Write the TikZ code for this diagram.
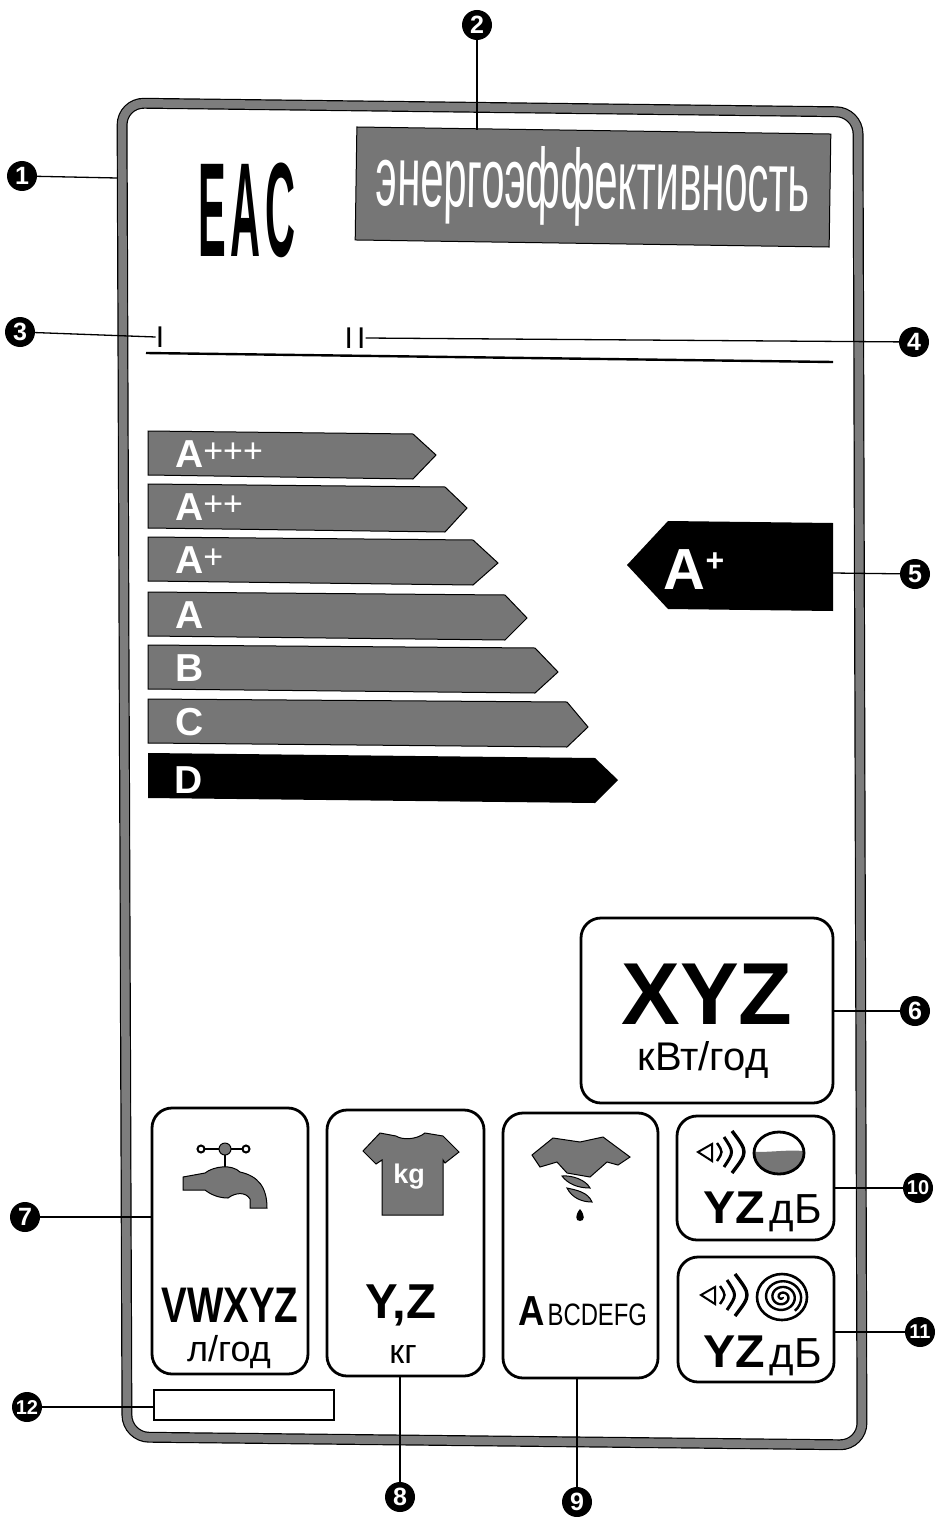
\documentclass[tikz,border=0pt]{standalone}
\usepackage{fontspec}
\setmainfont{Liberation Sans}
\usepackage{tikz}
\definecolor{halfGray}{RGB}{118,118,118}
\definecolor{frameGray}{RGB}{125,125,125}
\newcommand{\fsz}[1]{\fontsize{#1}{#1}\selectfont}
\newcommand{\plusup}[1]{\raisebox{5pt}{\fsz{34}\mdseries #1}}
\tikzset{
  numcirc/.style={circle, fill=black, text=white, inner sep=0pt, minimum size=30pt, font=\fsz{25}\bfseries},
  numsmall/.style={numcirc, font=\fsz{20}\bfseries},
  callout/.style={black, line width=1.3pt},
  valbox/.style={draw=black, line width=2.8pt, rounded corners=20pt, inner sep=0pt},
  halfshape/.style={fill=halfGray, draw=black, line width=1pt},
}
\begin{document}
\begin{tikzpicture}[x=1pt, y=-1pt]
  \useasboundingbox (0,0) rectangle (937,1517);

  % Outer frame, gray band between two dark edges
  \draw[rounded corners=22pt, line width=1.2pt, double=frameGray, double distance=8.5pt]
    (122,103) -- (858,112) -- (862,1445) -- (127,1437) -- cycle;
  \coordinate (frameLeft) at (117,178);

  % Heading
  \node[fill=halfGray, draw=black, line width=1pt, minimum width=474pt, minimum height=113pt,
        inner sep=0pt, rotate=-0.85, text=white] (hdr) at (593,187)
    {\fsz{47}\scalebox{0.89}[1.8]{энергоэффективность}};
  \node[inner sep=0pt] (eac) at (247,210) {\fsz{134}\bfseries\scalebox{0.31}[1]{E\kern16pt A\kern16pt C}};

  % Columns I and II with rule
  \node[inner sep=0pt] (colI) at (160,337) {\fsz{30}I};
  \node[inner sep=0pt] (colII) at (355,338) {\fsz{30}I\kern4pt I};
  \coordinate (ruleL) at (146,353);
  \coordinate (ruleR) at (833,362);
  \draw[line width=2.4pt] (ruleL) -- (ruleR);

  % Scale bars: label/top/end of body/tip x/tip y
  \foreach \lbl/\ytop/\xend/\xtip/\ytip [count=\i] in {
      {A\plusup{+++}}/431/413/436/455,
      {A\plusup{++}}/484/445/467/508,
      {A\plusup{+}}/537/473/498/563,
      {A}/592/505/527/618,
      {B}/645/535/558/672,
      {C}/699/567/588/727}{
    \draw[halfshape] (148,\ytop) -- (\xend,{\ytop+3}) -- (\xtip,\ytip) -- (\xend,{\ytop+48}) -- (148,{\ytop+44}) -- cycle;
    \node[anchor=west, inner sep=0pt, text=white, font=\fsz{39}\bfseries] (bar\i) at (175,{\ytop+23}) {\lbl};
  }
  \fill (148,753) -- (595,758) -- (618,780) -- (595,803) -- (148,798) -- cycle;
  \node[anchor=west, inner sep=0pt, text=white, font=\fsz{39}\bfseries] (barD) at (174,780) {D};

  % Class pointer
  \fill (627,565) -- (668,521) -- (833,523) -- (833,611) -- (668,609) -- cycle;
  \node[inner sep=0pt, text=white, font=\fsz{58}\bfseries] (classLbl) at (694,570) {A\raisebox{18pt}{\fsz{32}+}};
  \coordinate (classR) at (833,573);

  % Value boxes
  \node[valbox, minimum width=252pt, minimum height=185pt] (boxXYZ) at (707,1010.5) {};
  \node[valbox, minimum width=156pt, minimum height=266pt] (boxWater) at (230,1241) {};
  \node[valbox, minimum width=157pt, minimum height=266pt] (boxLoad) at (405.5,1243) {};
  \node[valbox, minimum width=155pt, minimum height=265pt] (boxDry) at (580.5,1245.5) {};
  \node[valbox, minimum width=157pt, minimum height=124pt] (boxWash) at (755.5,1178) {};
  \node[valbox, minimum width=156pt, minimum height=125pt] (boxSpin) at (756,1319.5) {};
  \node[draw=black, line width=1.5pt, minimum width=180pt, minimum height=30pt, inner sep=0pt] (boxBlank) at (244,1405) {};

  % Box texts
  \node[inner sep=0pt, font=\fsz{88}\bfseries] (txtXYZ) at (707,994) {XYZ};
  \node[inner sep=0pt, font=\fsz{40}] (txtKwh) at (703,1060) {кВт/год};
  \node[inner sep=0pt, font=\fsz{50}\bfseries] (txtWater) at (230,1305) {\scalebox{0.77}[1]{VWXYZ}};
  \node[inner sep=0pt, font=\fsz{36}] (txtLit) at (229,1352) {л/год};
  \node[inner sep=0pt, font=\fsz{49}\bfseries] (txtLoad) at (401,1305) {Y,Z};
  \node[inner sep=0pt, font=\fsz{34}] (txtKg) at (403,1355) {кг};
  \node[inner sep=0pt, anchor=base west] (txtDry) at (518,1325)
    {\fsz{42}\bfseries\scalebox{0.87}[1]{A}\kern3pt\mdseries\fsz{31}\scalebox{0.77}[1]{BCDEFG}};
  \node[inner sep=0pt, anchor=base west] (txtWash) at (703,1223)
    {\fsz{46}\bfseries\scalebox{1.05}[1]{YZ}\kern5pt\mdseries\fsz{42}дБ};
  \node[inner sep=0pt, anchor=base west] (txtSpin) at (703,1367)
    {\fsz{46}\bfseries\scalebox{1.05}[1]{YZ}\kern5pt\mdseries\fsz{42}дБ};

  % Tap
  \draw[line width=2pt] (205,1149) -- (242,1149);
  \draw[line width=2.5pt] (225,1155) -- (225,1168);
  \fill[halfGray, draw=black, line width=1pt] (225,1149) circle (6);
  \fill[white, draw=black, line width=2pt] (201,1149) circle (3.5);
  \fill[white, draw=black, line width=2pt] (246,1149) circle (3.5);
  \draw[halfshape] (183,1177) -- (205,1173) .. controls (214,1166) and (232,1164) .. (240,1172)
    .. controls (258,1176) and (267,1187) .. (267,1208) -- (250,1208) -- (250,1199)
    .. controls (246,1192) and (236,1192) .. (228,1198) .. controls (218,1198) and (210,1194) .. (205,1190) -- (183,1190) -- cycle;

  % Shirt with kg
  \draw[halfshape] (363,1151) -- (380,1133) -- (396,1136) .. controls (402,1140) and (416,1140) .. (425,1133)
    -- (443,1136) -- (459,1152) -- (445,1163) -- (443,1160) -- (443,1215) -- (382,1215) -- (382,1160) -- (376,1164) -- cycle;
  \node[inner sep=0pt, text=white, font=\fsz{27}\bfseries] (kgLbl) at (409,1177) {kg};

  % Wrung shirt with drop
  \draw[halfshape] (532,1155) -- (553,1138) -- (580,1142) -- (603,1137) -- (630,1157) -- (618,1165)
    -- (607,1162) -- (590,1177) -- (567,1173) -- (557,1162) -- (540,1167) -- cycle;
  \draw[halfshape] (562,1176) .. controls (572,1175) and (586,1180) .. (590,1188) .. controls (578,1188) and (568,1184) .. cycle;
  \draw[halfshape] (567,1188) .. controls (576,1190) and (588,1192) .. (592,1202) .. controls (582,1202) and (572,1198) .. cycle;
  \fill (580,1209) .. controls (585,1215) and (585,1221) .. (580,1221) .. controls (575,1221) and (575,1215) .. cycle;

  % Speakers
  \foreach \sx/\sy in {698/1152, 701/1295}{
    \draw[line width=2pt, fill=white] (\sx,\sy) -- ({\sx+14},{\sy-8}) -- ({\sx+14},{\sy+9}) -- cycle;
    \draw[line width=2.4pt] ({\sx+19},{\sy-9}) .. controls ({\sx+25},\sy) .. ({\sx+19},{\sy+9});
    \draw[line width=3pt] ({\sx+26},{\sy-15}) .. controls ({\sx+36},\sy) .. ({\sx+26},{\sy+15});
    \draw[line width=3.4pt] ({\sx+34},{\sy-21}) .. controls ({\sx+50},\sy) .. ({\sx+34},{\sy+21});
  }

  % Drum
  \begin{scope}
    \clip (779,1153) ellipse [x radius=25, y radius=21];
    \fill[halfGray] (750,1151) .. controls (765,1154) and (790,1148) .. (810,1152) -- (810,1180) -- (750,1180) -- cycle;
  \end{scope}
  \draw[line width=2.8pt] (779,1153) ellipse [x radius=25, y radius=21];

  % Spiral
  \draw[line width=2.6pt] (782,1297) ellipse [x radius=25, y radius=23];
  \draw[line width=2.4pt] plot[smooth, domain=30:1130, samples=90]
    ({782+\x/1130*20*cos(\x)},{1297+\x/1130*18*sin(\x)});

  % Number marks
  \node[numcirc] (num1) at (22,176) {1};
  \node[numcirc] (num2) at (477,25) {2};
  \node[numcirc] (num3) at (20,332) {3};
  \node[numcirc] (num4) at (914,342) {4};
  \node[numcirc] (num5) at (915,574) {5};
  \node[numcirc] (num6) at (915,1011) {6};
  \node[numcirc] (num7) at (25,1217) {7};
  \node[numcirc] (num8) at (400,1497) {8};
  \node[numcirc] (num9) at (577,1502) {9};
  \node[numsmall] (num10) at (918,1188) {10};
  \node[numsmall] (num11) at (920,1332) {11};
  \node[numsmall] (num12) at (27,1407) {12};

  % Leader lines
  \draw[callout] (num1) -- (frameLeft);
  \draw[callout] (num2) -- (num2 |- hdr.north);
  \draw[callout] (num3) -- (colI.west);
  \draw[callout] (num4) -- (colII.east);
  \draw[callout] (num5) -- (classR);
  \draw[callout] (num6) -- (num6 -| boxXYZ.east);
  \draw[callout] (num7) -- (num7 -| boxWater.west);
  \draw[callout] (num8) -- (num8 |- boxLoad.south);
  \draw[callout] (num9) -- (num9 |- boxDry.south);
  \draw[callout] (num10) -- (num10 -| boxWash.east);
  \draw[callout] (num11) -- (num11 -| boxSpin.east);
  \draw[callout] (num12) -- (num12 -| boxBlank.west);
\end{tikzpicture}
\end{document}
